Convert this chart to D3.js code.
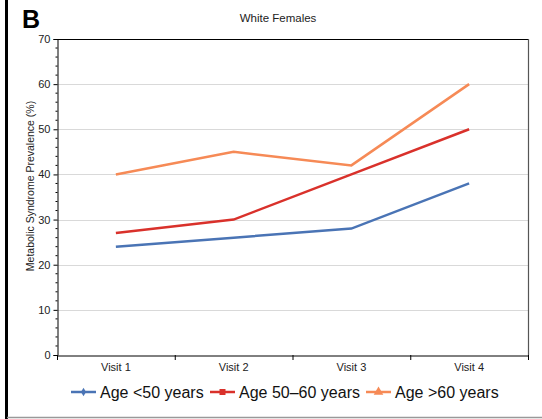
<!DOCTYPE html>
<html><head><meta charset="utf-8">
<script src="https://cdn.jsdelivr.net/npm/d3@7"></script>
<style>html,body{margin:0;padding:0;background:#fff;}svg{display:block;font-family:Arial,"Liberation Sans",sans-serif;}</style>
</head><body>
<script>
const categories = ["Visit 1","Visit 2","Visit 3","Visit 4"];
const seriesNames = ["Age <50 years","Age 50\u201360 years","Age >60 years"];
const under50 = [24,26,28,38];
const age50to60 = [27,30,40,50];
const over60 = [40,45,42,60];
const yTicks = [0,10,20,30,40,50,60,70];
const colors = ["#4a74b5","#d9312b","#f68a56"];
const title = "White Females";
const panel = "B";
const yLabel = "Metabolic Syndrome Prevalence (%)";

const W=542,H=419;
const svg=d3.select("body").append("svg").attr("width",W).attr("height",H);
const mLeft=57,mRight=528,mTop=39,mBottom=355;
const x=d3.scaleBand().domain(categories).range([mLeft,mRight]).padding(0);
const y=d3.scaleLinear().domain([0,70]).range([mBottom,mTop]);

// frame decorations
svg.append("rect").attr("x",5).attr("y",0).attr("width",3).attr("height",H).attr("fill","#000");
svg.append("line").attr("x1",7).attr("x2",W).attr("y1",417.5).attr("y2",417.5).attr("stroke","#999").attr("stroke-width",1.5);

svg.append("text").attr("x",22).attr("y",28).attr("font-size",25).attr("font-weight","bold").text(panel);
svg.append("text").attr("x",278).attr("y",22).attr("text-anchor","middle").attr("font-size",11.5).attr("fill","#222").text(title);

// gridlines
svg.append("g").selectAll("line").data(yTicks.filter(d=>d>0&&d<70)).join("line")
 .attr("x1",mLeft).attr("x2",mRight).attr("y1",d=>Math.round(y(d))+0.5).attr("y2",d=>Math.round(y(d))+0.5)
 .attr("stroke","#d9d9d9").attr("stroke-width",1.2);

// plot borders top & right
svg.append("line").attr("x1",mLeft).attr("x2",mRight).attr("y1",mTop+0.5).attr("y2",mTop+0.5).attr("stroke","#000").attr("stroke-width",1.2);
svg.append("line").attr("x1",mRight+0.5).attr("x2",mRight+0.5).attr("y1",mTop).attr("y2",mBottom).attr("stroke","#555").attr("stroke-width",1.2);

// y axis
const yAxis=d3.axisLeft(y).tickValues(yTicks).tickSize(4).tickPadding(3);
const gy=svg.append("g").attr("transform",`translate(${mLeft+0.5},0)`).call(yAxis);
gy.select(".domain").attr("stroke","#000");
gy.selectAll("text").attr("font-size",11).attr("fill","#222").attr("font-family","Arial,'Liberation Sans',sans-serif");
const minor=d3.range(0,71,2).filter(d=>d%10!==0);
gy.selectAll(".minor").data(minor).join("line").attr("class","minor")
 .attr("x1",-2).attr("x2",0).attr("y1",d=>y(d)).attr("y2",d=>y(d)).attr("stroke","#000");

// x axis
const xAxis=d3.axisBottom(x).tickSize(0).tickPadding(8);
const gx=svg.append("g").attr("transform",`translate(0,${mBottom+0.5})`).call(xAxis);
gx.select(".domain").attr("stroke","#000");
gx.selectAll("text").attr("font-size",11).attr("fill","#222").attr("font-family","Arial,'Liberation Sans',sans-serif");
const bounds=[mLeft,...categories.map(c=>x(c)+x.bandwidth())];
svg.append("g").selectAll("line").data(bounds).join("line")
 .attr("x1",d=>d+0.5).attr("x2",d=>d+0.5).attr("y1",mBottom).attr("y2",mBottom+5).attr("stroke","#000");

// y label
svg.append("text").attr("transform",`translate(34,186) rotate(-90)`).attr("text-anchor","middle")
 .attr("font-size",10.5).attr("fill","#222").text(yLabel);

// lines
const series=[under50,age50to60,over60];
const line=d3.line().x((d,i)=>x(categories[i])+x.bandwidth()/2).y(d=>y(d));
series.forEach((s,k)=>{
 svg.append("path").datum(s).attr("d",line).attr("fill","none").attr("stroke",colors[k]).attr("stroke-width",2.5);
});

// legend
const legX=[71,210,366];
const legY=392;
const lg=svg.append("g");
seriesNames.forEach((n,k)=>{
 const g=lg.append("g").attr("transform",`translate(${legX[k]},${legY})`);
 g.append("line").attr("x1",0).attr("x2",25).attr("y1",0).attr("y2",0).attr("stroke",colors[k]).attr("stroke-width",2.5);
 const sym=[d3.symbolDiamond,d3.symbolSquare,d3.symbolTriangle][k];
 const sz=[22,36,40][k];
 g.append("path").attr("d",d3.symbol(sym,sz)).attr("transform","translate(12.5,0)").attr("fill",colors[k]);
 g.append("text").attr("x",29).attr("y",6).attr("font-size",16).attr("fill","#111").text(n);
});
</script>
</body></html>
